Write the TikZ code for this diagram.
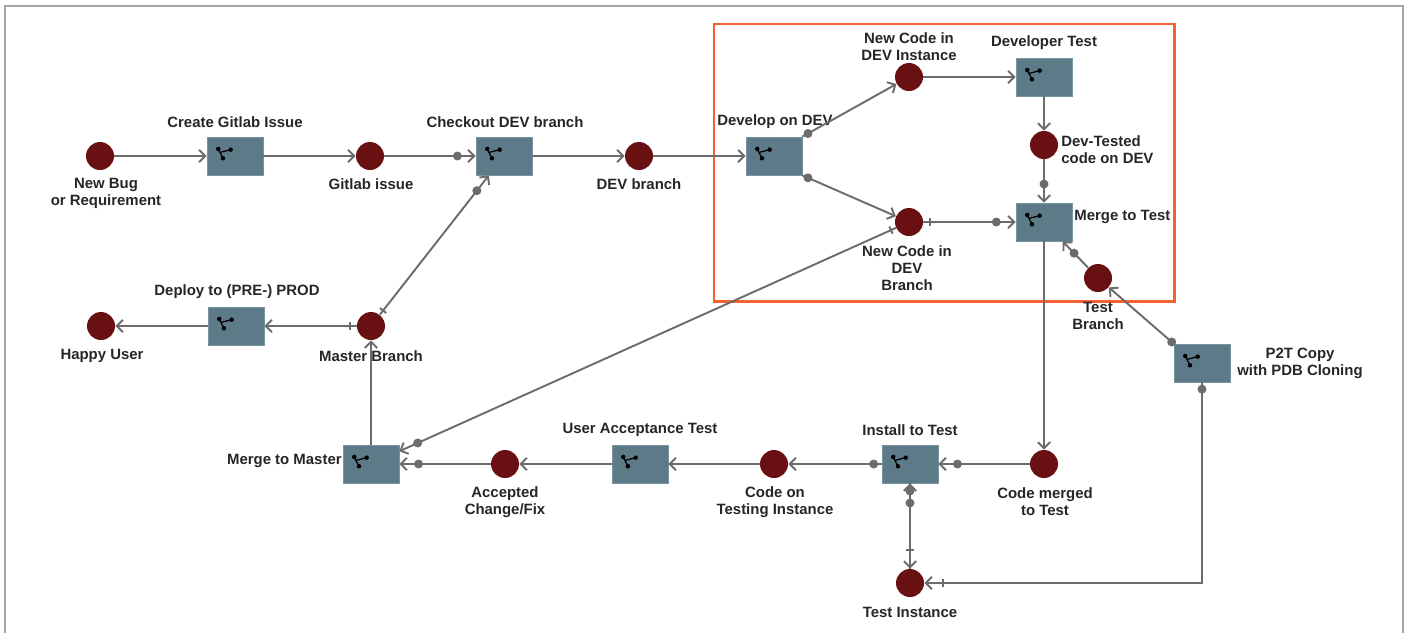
\documentclass[tikz,border=0pt]{standalone}
\usepackage{fontspec}
\setmainfont{Liberation Sans}
\usetikzlibrary{arrows.meta}
\definecolor{placered}{RGB}{104,16,18}
\definecolor{transblue}{RGB}{92,122,136}
\definecolor{transedge}{RGB}{120,148,160}
\definecolor{linegray}{RGB}{108,108,108}
\definecolor{framegray}{RGB}{165,165,168}
\definecolor{focusorange}{RGB}{242,98,48}

% small fork glyph in the upper left of a transition box
\newcommand{\branchicon}[1]{%
	\draw[black, line width=0.7pt] ([shift={(0.232cm,-0.246cm)}]#1.north west) -- ([shift={(0.326cm,-0.432cm)}]#1.north west)
		([shift={(0.28cm,-0.312cm)}]#1.north west) -- ([shift={(0.48cm,-0.26cm)}]#1.north west);
	\fill[black] ([shift={(0.232cm,-0.246cm)}]#1.north west) circle (0.045cm)
		([shift={(0.326cm,-0.432cm)}]#1.north west) circle (0.045cm)
		([shift={(0.48cm,-0.26cm)}]#1.north west) circle (0.045cm);}

\begin{document}
\begin{tikzpicture}[x=0.02cm,y=-0.02cm]
	\tikzstyle{place}=[circle, fill=placered, minimum size=0.56cm, inner sep=0pt]
	\tikzstyle{trans}=[rectangle, fill=transblue, draw=transedge, line width=0.4pt, minimum width=1.12cm, minimum height=0.76cm, inner sep=0pt]
	\tikzstyle{lbl}=[font=\bfseries\fontsize{8.5}{9.7}\selectfont, text=black!85, align=center, inner sep=0pt]
	\tikzstyle{conn}=[draw=linegray, line width=1.1pt, ->, >={Straight Barb[length=3.5pt,width=7pt]}]
	\tikzstyle{dotmark}=[circle, fill=linegray, minimum size=0.18cm, inner sep=0pt]
	\tikzstyle{barmark}=[rectangle, fill=linegray, minimum width=1.1pt, minimum height=0.16cm, inner sep=0pt, sloped]
	
	\useasboundingbox (0,0) rectangle (1411,633);
	\draw[framegray, line width=1.2pt] (5,633) -- (5,6) -- (1403,6) -- (1403,633);
	\draw[focusorange, line width=1.7pt] (714,24) rectangle (1174,301);
	
	% top row
	\draw node at (100,156) [place] (newbug) {};
	\draw node at (235,156) [trans] (create) {};
	\draw node at (370,156) [place] (issue) {};
	\draw node at (504,156) [trans] (checkout) {};
	\draw node at (639,156) [place] (devbranch) {};
	\draw node at (774,156) [trans] (develop) {};
	
	% DEV box
	\draw node at (909,77) [place] (newinst) {};
	\draw node at (1044,77) [trans] (devtest) {};
	\draw node at (1044,145) [place] (devtested) {};
	\draw node at (909,222) [place] (newbranch) {};
	\draw node at (1044,222) [trans] (mergetest) {};
	\draw node at (1098,278) [place] (testbranch) {};
	\draw node at (1202,363) [trans] (ptcopy) {};
	
	% master side
	\draw node at (101,326) [place] (happy) {};
	\draw node at (236,326) [trans] (deploy) {};
	\draw node at (371,326) [place] (master) {};
	
	% bottom row
	\draw node at (371,464) [trans] (mergemaster) {};
	\draw node at (505,464) [place] (accepted) {};
	\draw node at (640,464) [trans] (uat) {};
	\draw node at (774,464) [place] (codeon) {};
	\draw node at (910,464) [trans] (install) {};
	\draw node at (1044,464) [place] (codemerged) {};
	\draw node at (910,583) [place] (testinst) {};
	
	\foreach \t in {create,checkout,develop,devtest,mergetest,ptcopy,deploy,mergemaster,uat,install}
		\branchicon{\t};
	
	% labels
	\draw node at (106,193.5) [lbl] (l_newbug) {New Bug\\or Requirement};
	\draw node at (235,122) [lbl] (l_create) {Create Gitlab Issue};
	\draw node at (371,184) [lbl] (l_issue) {Gitlab issue};
	\draw node at (505,122) [lbl] (l_checkout) {Checkout DEV branch};
	\draw node at (639,184) [lbl] (l_devbranch) {DEV branch};
	\draw node at (775,122) [lbl] (l_develop) {Develop on DEV};
	\draw node at (909,47) [lbl] (l_newinst) {New Code in\\DEV Instance};
	\draw node at (1044,43) [lbl] (l_devtest) {Developer Test};
	\draw node at (1061,149.5) [lbl, anchor=west, align=left] (l_devtested) {Dev-Tested\\code on DEV};
	\draw node at (1074,217) [lbl, anchor=west] (l_mergetest) {Merge to Test};
	\draw node at (907,268.5) [lbl] (l_newbranch) {New Code in\\DEV\\Branch};
	\draw node at (1098,316) [lbl] (l_testbranch) {Test\\Branch};
	\draw node at (1300,363) [lbl] (l_ptcopy) {P2T Copy\\with PDB Cloning};
	\draw node at (237,292) [lbl] (l_deploy) {Deploy to (PRE-) PROD};
	\draw node at (102,356) [lbl] (l_happy) {Happy User};
	\draw node at (371,356) [lbl] (l_master) {Master Branch};
	\draw node at (342,461) [lbl, anchor=east] (l_mergemaster) {Merge to Master};
	\draw node at (505,502) [lbl] (l_accepted) {Accepted\\Change/Fix};
	\draw node at (640,430) [lbl] (l_uat) {User Acceptance Test};
	\draw node at (775,502) [lbl] (l_codeon) {Code on\\Testing Instance};
	\draw node at (910,430) [lbl] (l_install) {Install to Test};
	\draw node at (1045,502) [lbl] (l_codemerged) {Code merged\\to Test};
	\draw node at (910,612) [lbl] (l_testinst) {Test Instance};
	
	% connectors
	\draw [conn] (newbug) to (create);
	\draw [conn] (create) to (issue);
	\draw [conn] (issue) to node[dotmark, pos=0.8]{} (checkout);
	\draw [conn] (checkout) to (devbranch);
	\draw [conn] (devbranch) to (develop);
	\draw [conn] (develop.north east) to node[dotmark, pos=0.06]{} (newinst);
	\draw [conn] (develop.south east) to node[dotmark, pos=0.06]{} (newbranch);
	\draw [conn] (newinst) to (devtest);
	\draw [conn] (devtest) to (devtested);
	\draw [conn] (devtested) to node[dotmark, pos=0.57]{} (mergetest);
	\draw [conn] (newbranch) to node[barmark, pos=0.075]{} node[dotmark, pos=0.79]{} (mergetest);
	\draw [conn] (testbranch) to node[dotmark, pos=0.55]{} (mergetest);
	\draw [conn] (ptcopy.north west) to node[dotmark, pos=0.03]{} (testbranch);
	\draw [conn] (ptcopy) |- node[dotmark, pos=0.017]{} node[barmark, pos=0.966]{} (testinst);
	\draw [conn] (mergetest) to (codemerged);
	\draw [conn] (codemerged) to node[dotmark, pos=0.79]{} (install);
	\draw [conn] (install) to node[dotmark, pos=0.085]{} (codeon);
	\draw [conn] (install) to node[dotmark, pos=0.23]{} node[barmark, pos=0.78]{} (testinst);
	\draw [conn] (testinst) to node[dotmark, pos=0.91]{} (install);
	\draw [conn] (codeon) to (uat);
	\draw [conn] (uat) to (accepted);
	\draw [conn] (accepted) to node[dotmark, pos=0.79]{} (mergemaster);
	\draw [conn] (newbranch) to node[barmark, pos=0.01]{} node[dotmark, pos=0.963]{} (mergemaster);
	\draw [conn] (mergemaster) to (master);
	\draw [conn] (master) to node[barmark, pos=0.03]{} node[dotmark, pos=0.89]{} (checkout);
	\draw [conn] (master) to node[barmark, pos=0.075]{} (deploy);
	\draw [conn] (deploy) to (happy);
\end{tikzpicture}
\end{document}
